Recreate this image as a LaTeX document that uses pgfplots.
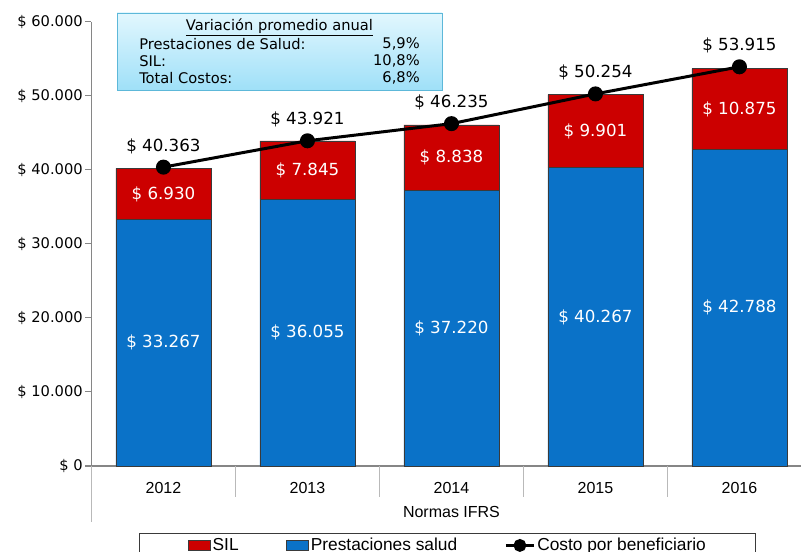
\documentclass[border=0pt]{standalone}
\usepackage{pgfplots}
\pgfplotsset{compat=1.18}
\usepackage{fontspec}
\setmainfont{DejaVu Sans}
\newfontfamily\arialf{Liberation Sans}
\definecolor{azul}{HTML}{0A72C8}
\definecolor{rojo}{HTML}{CC0000}
\definecolor{borde}{HTML}{3A3A3A}
\definecolor{ejes}{HTML}{868686}
\definecolor{cajaA}{HTML}{E2F7FE}
\definecolor{cajaB}{HTML}{9FE0F8}
\definecolor{cajaL}{HTML}{5DB8D9}
\pgfplotsset{
  barleg/.style={legend image code/.code={\draw[##1] (0pt,-3.75pt) rectangle (16.5pt,3.75pt);}},
  lineleg/.style={legend image code/.code={
      \draw[##1] (0pt,0pt) -- (21pt,0pt);
      \fill[black] (10.5pt,0pt) circle (3.8pt);}},
}

\begin{document}
\begin{tikzpicture}
% barras apiladas, ejes y leyenda
\begin{axis}[
    at={(68.6pt,63.75pt)}, anchor=south west,
    scale only axis, width=540pt, height=333.2pt,
    ybar stacked, bar width=0.66,
    xmin=-0.5, xmax=4.5, ymin=0, ymax=60000,
    axis lines*=left,
    axis line style={ejes, line width=0.8pt},
    clip=false,
    xtick={0,...,4},
    xticklabels={2012,2013,2014,2015,2016},
    major x tick style={draw=none},
    xticklabel style={font=\arialf\fontsize{12}{14}\selectfont, yshift=-4.5pt},
    ytick={0,10000,...,60000},
    major y tick style={ejes, line width=0.8pt},
    tick align=outside,
    major tick length=4.5pt,
    scaled y ticks=false,
    /pgf/number format/.cd, 1000 sep={.}, assume math mode=true,
    /pgfplots/.cd,
    yticklabel={\$ \pgfmathprintnumber{\tick}},
    yticklabel style={font=\fontsize{11}{13}\selectfont, xshift=1.5pt},
    xlabel={Normas IFRS},
    x label style={at={(axis description cs:0.5,0)}, anchor=center,
                   yshift=-34.5pt, font=\arialf\fontsize{12}{14}\selectfont},
    legend style={at={(axis description cs:0.495,-0.151)}, anchor=north,
                  draw=borde, line width=0.6pt, fill=white,
                  font=\arialf\fontsize{13}{15}\selectfont,
                  nodes={inner sep=1.5pt},
                  inner xsep=36pt, inner ysep=2pt},
    legend columns=-1,
    legend cell align=left,
    /tikz/every odd column/.append style={column sep=0pt},
    /tikz/every even column/.append style={column sep=34pt},
]
\addplot[fill=azul, draw=borde, line width=0.6pt, forget plot]
    coordinates {(0,33267) (1,36055) (2,37220) (3,40267) (4,42788)};
\addplot[fill=rojo, draw=borde, line width=0.6pt, forget plot]
    coordinates {(0,6930) (1,7845) (2,8838) (3,9901) (4,10875)};

\addlegendimage{barleg, fill=rojo, draw=borde}
\addlegendentry{SIL}
\addlegendimage{barleg, fill=azul, draw=borde}
\addlegendentry{Prestaciones salud}
\addlegendimage{lineleg, black, line width=2pt}
\addlegendentry{Costo por beneficiario}

% separadores de categorias bajo el eje
\draw[gray!55, line width=0.7pt] (rel axis cs:0,0) -- ++(0pt,-42pt);
\draw[gray!55, line width=0.7pt] (axis cs:0.5,0) -- ++(0pt,-23pt);
\draw[gray!55, line width=0.7pt] (axis cs:1.5,0) -- ++(0pt,-23pt);
\draw[gray!55, line width=0.7pt] (axis cs:2.5,0) -- ++(0pt,-23pt);
\draw[gray!55, line width=0.7pt] (axis cs:3.5,0) -- ++(0pt,-23pt);
\end{axis}

% linea de costo y etiquetas
\begin{axis}[
    at={(68.6pt,63.75pt)}, anchor=south west,
    scale only axis, width=540pt, height=333.2pt,
    xmin=-0.5, xmax=4.5, ymin=0, ymax=60000,
    axis lines=none, clip=false,
]
\addplot[draw=none, mark=none, nodes near coords, point meta=explicit symbolic,
    every node near coord/.style={white, anchor=center, font=\fontsize{12.5}{15}\selectfont}]
    coordinates {(0,16633.5) [\$ 33.267] (1,18027.5) [\$ 36.055] (2,18610) [\$ 37.220]
                 (3,20133.5) [\$ 40.267] (4,21394) [\$ 42.788]};
\addplot[draw=none, mark=none, nodes near coords, point meta=explicit symbolic,
    every node near coord/.style={white, anchor=center, font=\fontsize{12.5}{15}\selectfont}]
    coordinates {(0,36732) [\$ 6.930] (1,39977.5) [\$ 7.845] (2,41639) [\$ 8.838]
                 (3,45217.5) [\$ 9.901] (4,48225.5) [\$ 10.875]};
\addplot[black, line width=2.25pt, mark=*, mark size=4.5pt,
    mark options={solid, fill=black},
    nodes near coords, point meta=explicit symbolic,
    every node near coord/.style={black, anchor=south, inner sep=1pt, yshift=8pt,
        font=\fontsize{12.5}{15}\selectfont}]
    coordinates {(0,40363) [\$ 40.363] (1,43921) [\$ 43.921] (2,46235) [\$ 46.235]
                 (3,50254) [\$ 50.254] (4,53915) [\$ 53.915]};
\end{axis}

% recuadro de variacion promedio anual
\shade[top color=cajaA, bottom color=cajaB] (87.75pt,345.75pt) rectangle (331.5pt,403.5pt);
\draw[cajaL, line width=0.7pt] (87.75pt,345.75pt) rectangle (331.5pt,403.5pt);
\begin{scope}[font=\fontsize{11}{13}\selectfont, inner sep=0pt]
\node at (209.6pt,393pt) {\underline{Variación promedio anual}};
\node[anchor=west] at (104.25pt,380.25pt) {Prestaciones de Salud:};
\node[anchor=west] at (104.25pt,367.5pt) {SIL:};
\node[anchor=west] at (104.25pt,354.75pt) {Total Costos:};
\node[anchor=east] at (315pt,380.25pt) {5,9\%};
\node[anchor=east] at (315pt,367.5pt) {10,8\%};
\node[anchor=east] at (315pt,354.75pt) {6,8\%};
\end{scope}

\pgfresetboundingbox
\useasboundingbox (0,0) rectangle (600.75pt,413.25pt);
\end{tikzpicture}
\end{document}
